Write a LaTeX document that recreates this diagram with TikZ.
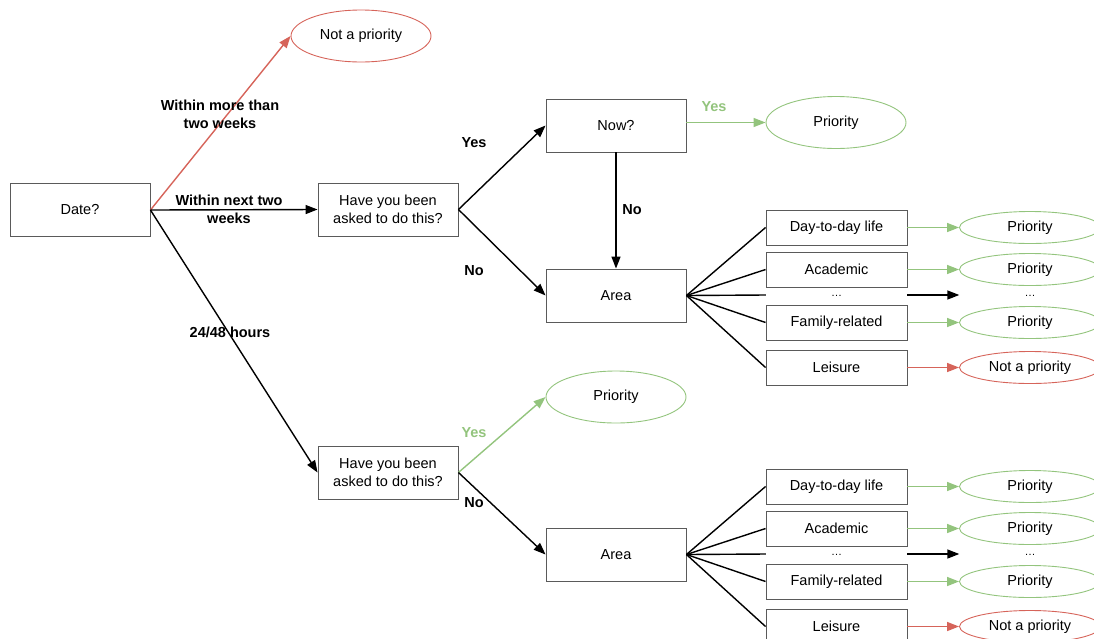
\documentclass[tikz,border=0pt]{standalone}
\usepackage{fontspec}
\setmainfont{Liberation Sans}
\usetikzlibrary{shapes.geometric,arrows.meta}
\definecolor{gred}{RGB}{214,100,90}
\definecolor{ggreen}{RGB}{147,196,125}
\definecolor{gbord}{RGB}{90,90,90}
\tikzset{
  txt/.style={font=\fontsize{14.5}{18}\selectfont, align=center},
  bigbox/.style={txt, draw=gbord, line width=0.9pt, minimum width=140pt, minimum height=53pt, inner sep=0pt},
  smallbox/.style={txt, draw=gbord, line width=0.9pt, minimum width=141pt, minimum height=35pt, inner sep=0pt},
  dotbox/.style={font=\fontsize{11}{11}\selectfont, minimum width=141pt, minimum height=35pt, inner sep=0pt},
  oval/.style={txt, ellipse, line width=0.9pt, minimum width=140pt, minimum height=52pt, inner sep=0pt},
  soval/.style={txt, ellipse, line width=0.9pt, minimum width=141pt, minimum height=32pt, inner sep=0pt},
  dotoval/.style={font=\fontsize{11}{11}\selectfont, ellipse, minimum width=141pt, minimum height=32pt, inner sep=0pt},
  tip/.style={-{Triangle[length=12pt,width=9pt]}},
  blk/.style={line width=1.4pt, black},
  grn/.style={line width=1.4pt, ggreen},
  rd/.style={line width=1.4pt, gred},
  lbl/.style={font=\bfseries\fontsize{14.5}{18}\selectfont, align=center},
}
\begin{document}
\begin{tikzpicture}[x=1pt,y=-1pt]
\useasboundingbox (0,0) rectangle (1094,638);
\clip (0,0) rectangle (1094,638);
% main nodes
\node[bigbox] (date) at (80,210) {Date?};
\node[oval, draw=gred] (nap) at (361,36) {Not a priority};
\node[bigbox] (ask1) at (388,209.5) {Have you been\\asked to do this?};
\node[bigbox] (now) at (616,125.5) {Now?};
\node[oval, draw=ggreen] (pr1) at (836,122.5) {Priority};
\node[bigbox] (area1) at (616,295.5) {Area};
\node[oval, draw=ggreen] (pr2) at (616,397) {Priority};
\node[bigbox] (ask2) at (388,472.5) {Have you been\\asked to do this?};
\node[bigbox] (area2) at (616,554.5) {Area};
% upper area branches
\node[smallbox] (a1) at (836.5,227.5) {Day-to-day life};
\node[smallbox] (a2) at (836.5,269.5) {Academic};
\node[dotbox] (a3) at (836.5,295) {\raisebox{-2pt}{\dots}};
\node[smallbox] (a4) at (836.5,322.5) {Family-related};
\node[smallbox] (a5) at (836.5,367.5) {Leisure};
\node[soval, draw=ggreen] (o1) at (1030,227.5) {Priority};
\node[soval, draw=ggreen] (o2) at (1030,269.5) {Priority};
\node[dotoval] (o3) at (1030,295) {\raisebox{-2pt}{\dots}};
\node[soval, draw=ggreen] (o4) at (1030,322.5) {Priority};
\node[soval, draw=gred] (o5) at (1030,367.5) {Not a priority};
% lower area branches
\node[smallbox] (b1) at (836.5,486.5) {Day-to-day life};
\node[smallbox] (b2) at (836.5,528.5) {Academic};
\node[dotbox] (b3) at (836.5,554) {\raisebox{-2pt}{\dots}};
\node[smallbox] (b4) at (836.5,581.5) {Family-related};
\node[smallbox] (b5) at (836.5,626.5) {Leisure};
\node[soval, draw=ggreen] (p1) at (1030,486.5) {Priority};
\node[soval, draw=ggreen] (p2) at (1030,528.5) {Priority};
\node[dotoval] (p3) at (1030,554) {\raisebox{-2pt}{\dots}};
\node[soval, draw=ggreen] (p4) at (1030,581.5) {Priority};
\node[soval, draw=gred] (p5) at (1030,626.5) {Not a priority};
% connectors from Date
\draw[rd, tip] (date.east) -- (nap.west);
\draw[blk, tip] (date.east) -- (ask1.west);
\draw[blk, tip] (date.east) -- (ask2.west);
% upper
\draw[blk, tip] (ask1.east) -- (now.west);
\draw[blk, tip] (ask1.east) -- (area1.west);
\draw[grn, tip] (now.east |- pr1.west) -- (pr1.west);
\draw[blk, tip] (now.south) -- (area1.north);
\foreach \n in {a1,a2,a3,a4,a5} \draw[blk] (area1.east) -- (\n.west);
\foreach \s/\t in {a1/o1,a2/o2,a4/o4} \draw[grn, tip] (\s.east) -- (\t.west);
\draw[blk, tip] (a3.east) -- (o3.west);
\draw[rd, tip] (a5.east) -- (o5.west);
% lower
\draw[grn, tip] (ask2.east) -- (pr2.west);
\draw[blk, tip] (ask2.east) -- (area2.west);
\foreach \n in {b1,b2,b3,b4,b5} \draw[blk] (area2.east) -- (\n.west);
\foreach \s/\t in {b1/p1,b2/p2,b4/p4} \draw[grn, tip] (\s.east) -- (\t.west);
\draw[blk, tip] (b3.east) -- (p3.west);
\draw[rd, tip] (b5.east) -- (p5.west);
% labels
\node[lbl] (l1) at (220,114) {Within more than\\two weeks};
\node[lbl] (l2) at (229,209) {Within next two\\weeks};
\node[lbl] (l3) at (230,332) {24/48 hours};
\node[lbl] (l4) at (474,143) {Yes};
\node[lbl] (l5) at (474,271) {No};
\node[lbl, text=ggreen] (l6) at (714,107) {Yes};
\node[lbl] (l7) at (632,210) {No};
\node[lbl, text=ggreen] (l8) at (474,433) {Yes};
\node[lbl] (l9) at (474,503) {No};
\end{tikzpicture}
\end{document}
